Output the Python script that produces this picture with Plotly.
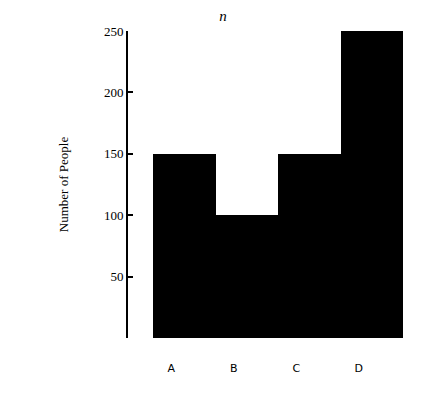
import plotly.graph_objects as go

groups = ['A', 'B', 'C', 'D']
people = [150, 100, 150, 250]
y_ticks = [0, 50, 100, 150, 200, 250]
y_labels = ['', '50', '100', '150', '200', '250']

fig = go.Figure(go.Bar(x=groups, y=people,
                       marker_color='black',
                       marker_line_width=0))

fig.update_layout(width=425, height=401,
                  plot_bgcolor='white',
                  paper_bgcolor='white',
                  bargap=0,
                  showlegend=False,
                  title=dict(text='<i>n</i>',
                             x=0.506, xanchor='center',
                             y=0.995, yanchor='top', pad=dict(t=0),
                             font=dict(family='Liberation Serif', size=15, color='black')),
                  margin=dict(l=120, r=30, t=23, b=71))

fig.update_xaxes(range=[-0.9, 3.5],
                 showgrid=False,
                 showline=False,
                 ticks='',
                 ticklabelshift=-13,
                 ticklabelstandoff=22,
                 tickfont=dict(family='DejaVu Sans', size=11, color='black'))

fig.update_yaxes(range=[0, 250],
                 tickvals=y_ticks,
                 ticktext=y_labels,
                 showgrid=False,
                 zeroline=False,
                 showline=True,
                 linecolor='black',
                 linewidth=2,
                 ticks='inside',
                 ticklen=5,
                 tickwidth=2,
                 tickcolor='black',
                 tickfont=dict(family='Liberation Serif', size=13, color='black'),
                 title=dict(text='Number of People', standoff=32,
                            font=dict(family='Liberation Serif', size=13, color='black')))

fig.write_html("out.html")
